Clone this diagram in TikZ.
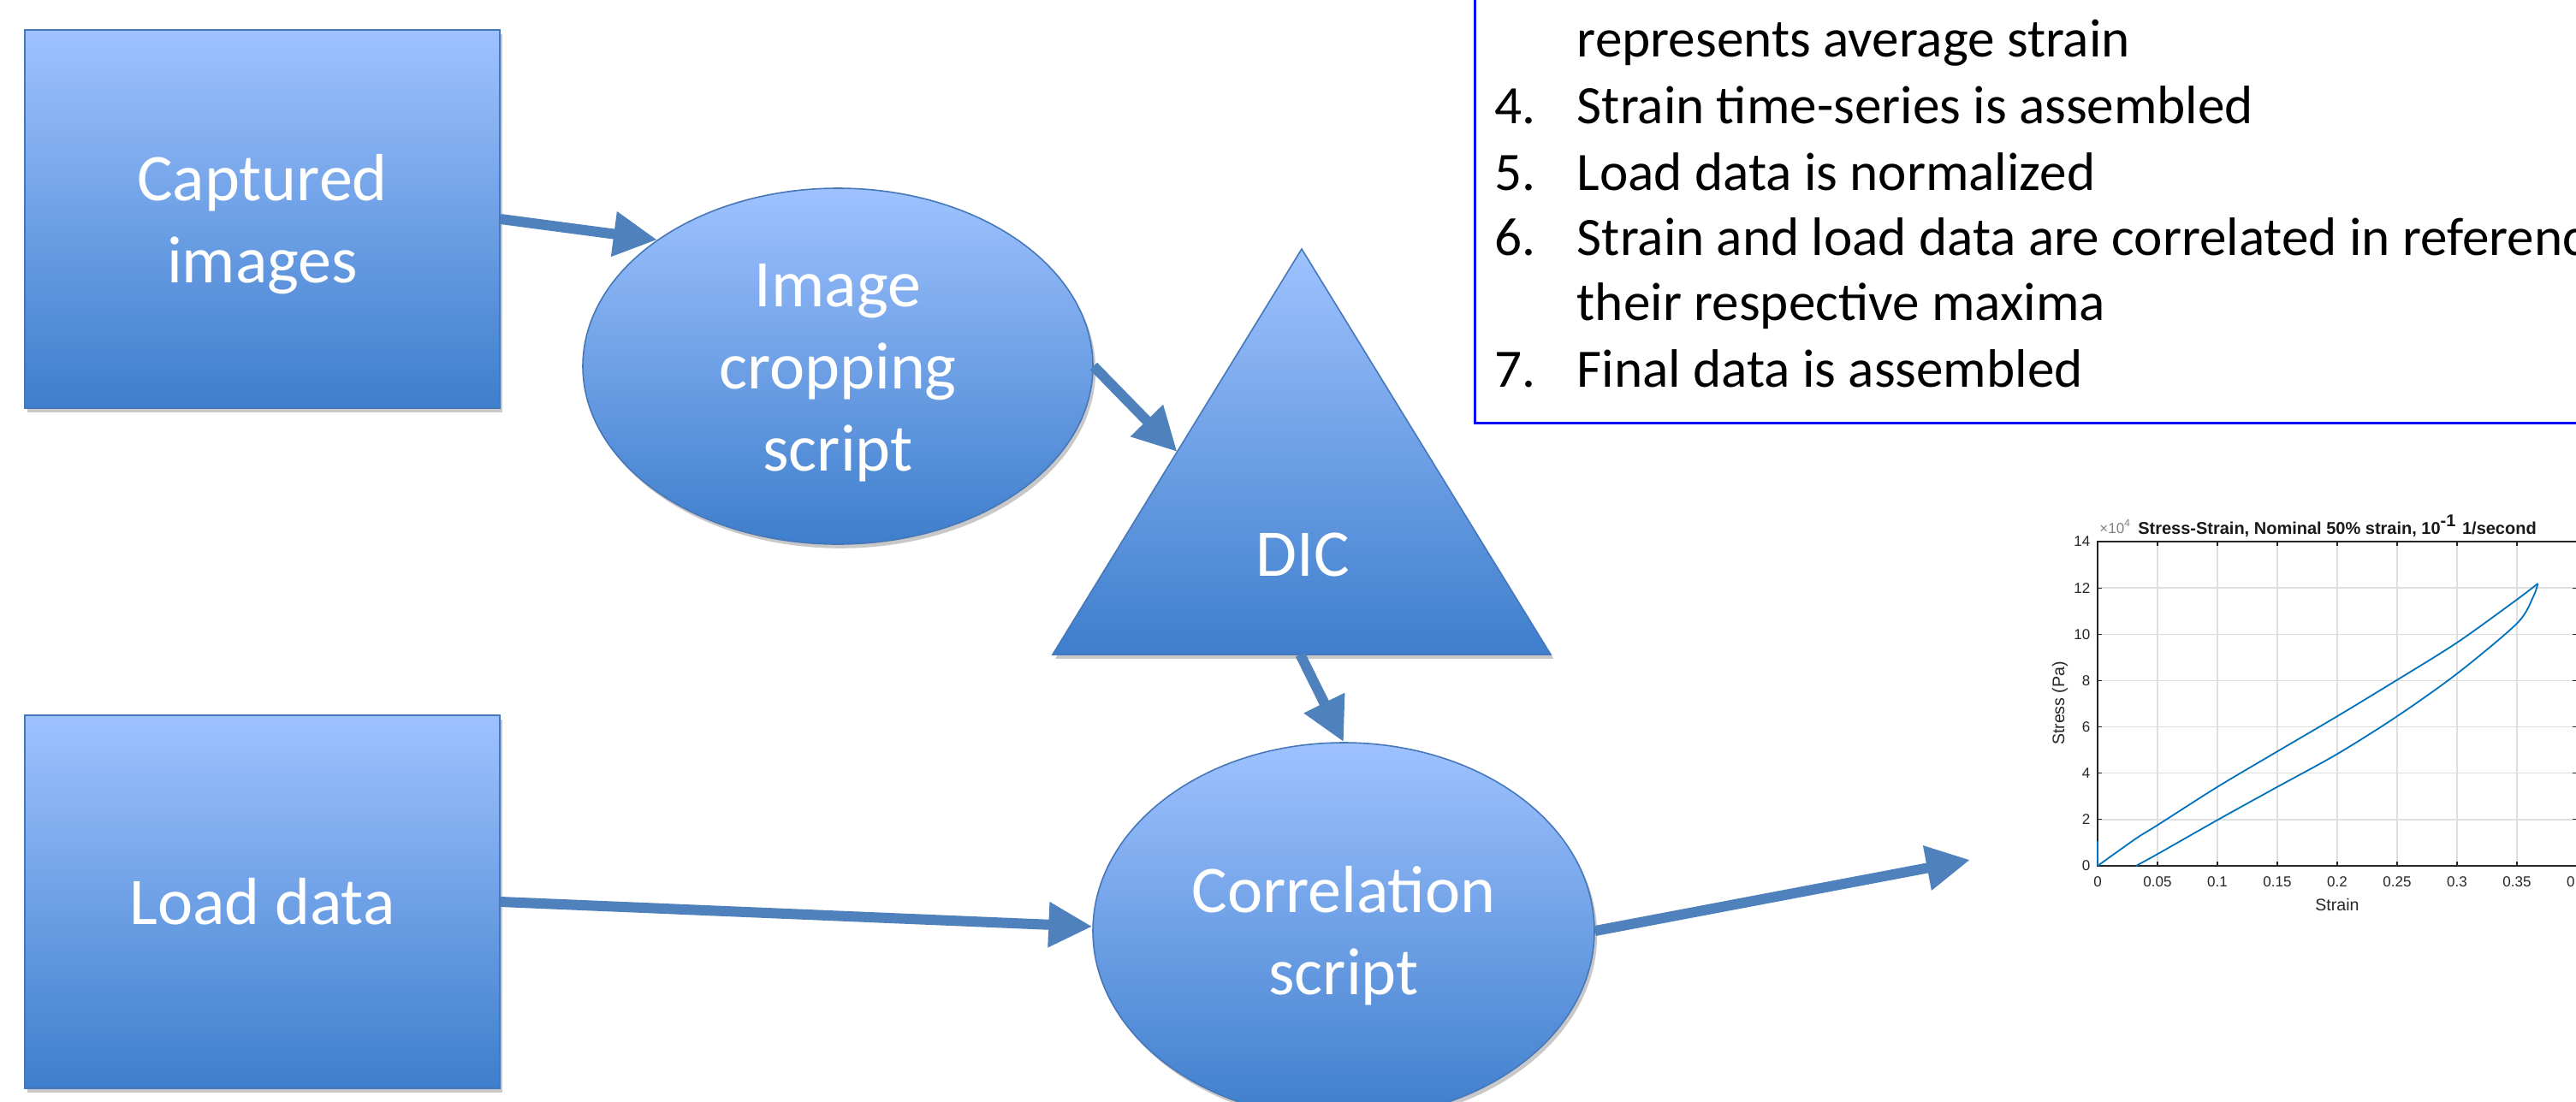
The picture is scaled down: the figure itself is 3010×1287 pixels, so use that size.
\documentclass[tikz,border=0pt]{standalone}
\usepackage{fontspec}
\setmainfont{Carlito}
\newfontfamily\chartfont{Liberation Sans}
\usetikzlibrary{shapes.geometric,arrows.meta,shadows,calc}
\newcommand{\shapestrut}{\rule[-5pt]{0pt}{23pt}}
\definecolor{topblue}{RGB}{158,194,255}
\definecolor{botblue}{RGB}{62,126,204}
\definecolor{edgeblue}{RGB}{70,120,185}
\definecolor{arrowblue}{RGB}{79,129,189}
\definecolor{curveblue}{RGB}{0,114,189}
\definecolor{axisgray}{RGB}{38,38,38}
\definecolor{gridgray}{RGB}{223,223,223}
\tikzset{
  shapefill/.style={draw=edgeblue, line width=0.4pt, top color=topblue, bottom color=botblue,
    drop shadow={shadow xshift=0.8pt, shadow yshift=-1.2pt, opacity=0.3, fill=black!70}},
  shapebox/.style={shapefill, text=white, font=\fontsize{19.5pt}{24pt}\selectfont, align=center, inner sep=0pt},
  rectbox/.style={shapebox, rectangle, minimum width=138.75pt},
  ellbox/.style={shapebox, ellipse},
  flow/.style={draw=arrowblue, line width=3pt, -{Triangle[length=12.75pt,width=12.5pt]}},
  listtxt/.style={anchor=base west, inner sep=0pt, font=\fontsize{15.8pt}{19pt}\selectfont},
  ticklab/.style={inner sep=0pt, text=axisgray, font=\chartfont\fontsize{4.25pt}{5pt}\selectfont},
  axlab/.style={inner sep=0pt, text=axisgray, font=\chartfont\fontsize{4.9pt}{6pt}\selectfont},
}
\begin{document}
\begin{tikzpicture}[x=0.25pt,y=-0.25pt]
\fill[white] (0,0) rectangle (3010,1287);
\useasboundingbox (0,0) rectangle (3010,1287);

% ---- text box (top right) ----
\draw[blue, line width=0.75pt] (1723,-60) rectangle (3120,494);
\node[listtxt] (l3b) at (1842,66) {represents average strain};
\node[listtxt] (n4) at (1746,144) {4.};
\node[listtxt] (l4) at (1842,144) {Strain time-series is assembled};
\node[listtxt] (n5) at (1746,222) {5.};
\node[listtxt] (l5) at (1842,222) {Load data is normalized};
\node[listtxt] (n6) at (1746,298) {6.};
\node[listtxt] (l6) at (1842,298) {Strain and load data are correlated in reference to};
\node[listtxt] (l6b) at (1842,374) {their respective maxima};
\node[listtxt] (n7) at (1746,452) {7.};
\node[listtxt] (l7) at (1842,452) {Final data is assembled};

% ---- shapes ----
\node[rectbox, minimum height=110.5pt] (cap) at (306.5,256) {\shapestrut Captured\\images\shapestrut};
\node[rectbox, minimum height=109pt] (load) at (306.5,1054) {\shapestrut Load data};
\node[ellbox, minimum width=149pt, minimum height=104pt] (crop) at (979,428) {\shapestrut Image\\cropping\\script\shapestrut};
\path[shapefill] (1521,291) coordinate (dtop) -- (1230,765) coordinate (dbl) -- (1812,765) coordinate (dbr) -- cycle;
\node[anchor=base, inner sep=0pt, text=white, font=\fontsize{19.5pt}{24pt}\selectfont] (dic) at (1522,673) {DIC};
\node[ellbox, minimum width=146.5pt, minimum height=110pt] (corr) at (1570,1088) {\shapestrut Correlation\\script\shapestrut};

\coordinate (dicin) at ($(dtop)!0.5!(dbl)$);
\coordinate (dicout) at ($(dbl)!0.497!(dbr)$);
\coordinate (chartin) at (2302,1005);

% ---- connectors ----
\draw[flow] (cap.east) -- (crop.145);
\draw[flow] (crop.east) -- (dicin);
\draw[flow] (dicout) -- (corr.north);
\draw[flow] (load.east) -- (corr.179);
\draw[flow] (corr.east) -- (chartin);

% ---- chart ----
\begin{scope}[shift={(2451,1012)}]
\begin{scope}[x=350pt,y=6.7675pt]
  \draw[gridgray, line width=0.35pt] (0,0) grid[xstep=0.05,ystep=2] (0.4,14);
  \foreach \xx in {0.05,0.1,...,0.36} {
    \draw[axisgray, line width=0.3pt] (\xx,0) -- ++(0,0.185);
    \draw[axisgray, line width=0.3pt] (\xx,14) -- ++(0,-0.185);
  }
  \foreach \yy in {2,4,...,12} {
    \draw[axisgray, line width=0.3pt] (0,\yy) -- ++(0.0036,0);
    \draw[axisgray, line width=0.3pt] (0.4,\yy) -- ++(-0.0036,0);
  }
  \draw[axisgray, line width=0.4pt] (0,0) rectangle (0.4,14);
  \draw[curveblue, line width=0.45pt] plot[smooth, tension=0.5] coordinates
    {(0,0) (0.032,1.18) (0.05,1.76) (0.1,3.41) (0.15,4.94) (0.2,6.46) (0.25,8.03) (0.3,9.64) (0.35,11.5) (0.3674,12.19)};
  \draw[curveblue, line width=0.45pt] plot[smooth, tension=0.5] coordinates
    {(0.3674,12.19) (0.3636,11.62) (0.35,10.47) (0.3,8.3) (0.25,6.46) (0.2,4.83) (0.15,3.41) (0.1,1.98) (0.05,0.51) (0.032,0)};
  \draw[curveblue, line width=0.45pt] (0,0) -- (0,1.08);
  \foreach \xx/\lab [count=\i] in {0/0,0.05/0.05,0.1/0.1,0.15/0.15,0.2/0.2,0.25/0.25,0.3/0.3,0.35/0.35,0.4/0.4}
    \node[ticklab] (xt\i) at (\xx,0) [yshift=-4.75pt] {\lab};
  \foreach \yy [count=\i] in {0,2,...,14}
    \node[ticklab, anchor=east] (yt\i) at (0,\yy) [xshift=-2pt] {\yy};
  \node[ticklab, anchor=base west, text=gray] (mult) at (0,14) [xshift=0.4pt, yshift=2.4pt] {×10\textsuperscript{4}};
  \node[axlab, anchor=base, font=\chartfont\bfseries\fontsize{5pt}{6pt}\selectfont, text=black!90] (title) at (0.2,14) [yshift=2.25pt]
    {Stress-Strain, Nominal 50\% strain, 10\textsuperscript{-1} 1/second};
  \node[axlab] (xlab) at (0.2,0) [yshift=-11.25pt] {Strain};
  \node[axlab, rotate=90] (ylab) at (-0.0314,7.02) {Stress (Pa)};
\end{scope}
\end{scope}
\end{tikzpicture}
\end{document}
